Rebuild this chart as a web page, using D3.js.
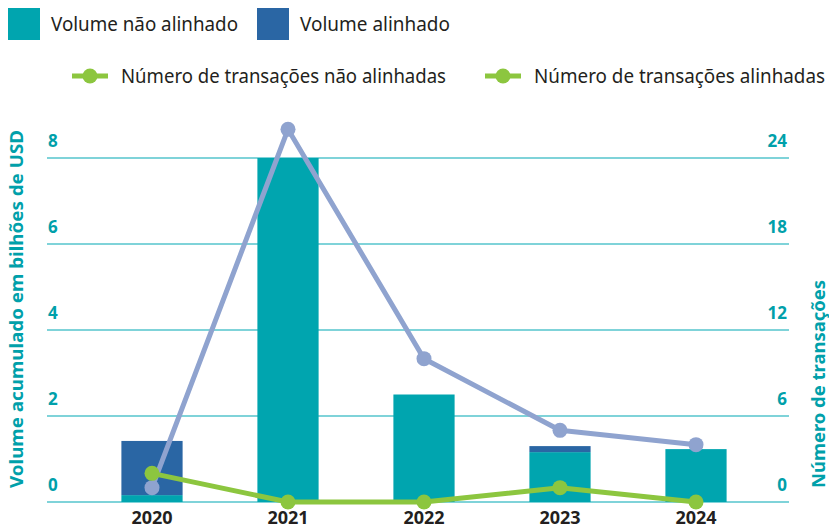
<!DOCTYPE html>
<html>
<head>
<meta charset="utf-8">
<script src="https://cdn.jsdelivr.net/npm/d3@7"></script>
<style>
  body { margin: 0; background: #fff; }
  svg { display: block; font-family: "Noto Sans", sans-serif; }
</style>
</head>
<body>
<svg id="chart"></svg>
<script>
// dados
const years = ["2020", "2021", "2022", "2023", "2024"];
const volNaoAlinhado = [0.16, 8.0, 2.5, 1.16, 1.23];
const volAlinhado = [1.26, 0, 0, 0.14, 0];
const txNaoAlinhadas = [1, 26, 10, 5, 4];
const txAlinhadas = [2, 0, 0, 1, 0];
const leftTicks = [0, 2, 4, 6, 8];
const rightTicks = [0, 6, 12, 18, 24];

const width = 829, height = 528;
const teal = "#00a5af", darkBlue = "#2a66a4", greyBlue = "#8fa3cf", green = "#8cc63f";
const gridColor = "#7fd3d9", axisText = "#00a0aa";

const svg = d3.select("#chart").attr("width", width).attr("height", height);

const x = d3.scaleBand().domain(years).range([84, 764]).paddingInner(0.55).paddingOuter(0.275);
const yL = d3.scaleLinear().domain([0, 8]).range([502, 158]);
const yR = d3.scaleLinear().domain([0, 24]).range([502, 158]);

// grade
svg.append("g").selectAll("line").data(leftTicks).enter().append("line")
    .attr("x1", 47).attr("x2", 789)
    .attr("y1", d => yL(d)).attr("y2", d => yL(d))
    .attr("stroke", gridColor).attr("stroke-width", 2);

// rótulos dos eixos
svg.append("g").selectAll("text").data(leftTicks).enter().append("text")
    .attr("x", 48).attr("y", d => yL(d) - 11)
    .attr("fill", axisText).attr("font-weight", 700).attr("font-size", 17)
    .text(d => d);
svg.append("g").selectAll("text").data(rightTicks).enter().append("text")
    .attr("x", 787).attr("y", d => yR(d) - 11).attr("text-anchor", "end")
    .attr("fill", axisText).attr("font-weight", 700).attr("font-size", 17)
    .text(d => d);

svg.append("text")
    .attr("transform", "translate(23,309) rotate(-90)")
    .attr("text-anchor", "middle").attr("fill", axisText)
    .attr("font-weight", 700).attr("font-size", 18)
    .attr("textLength", 358).attr("lengthAdjust", "spacingAndGlyphs")
    .text("Volume acumulado em bilhões de USD");
svg.append("text")
    .attr("transform", "translate(825,384) rotate(-90)")
    .attr("text-anchor", "middle").attr("fill", axisText)
    .attr("font-weight", 700).attr("font-size", 18)
    .attr("textLength", 208).attr("lengthAdjust", "spacingAndGlyphs")
    .text("Número de transações");

// barras empilhadas
const stackData = years.map((y, i) => ({ year: y, nao: volNaoAlinhado[i], ali: volAlinhado[i] }));
const series = d3.stack().keys(["nao", "ali"])(stackData);
const colors = { nao: teal, ali: darkBlue };
svg.append("g").selectAll("g").data(series).enter().append("g")
    .attr("fill", d => colors[d.key])
    .selectAll("rect").data(d => d).enter().append("rect")
    .attr("x", d => x(d.data.year))
    .attr("width", x.bandwidth())
    .attr("y", d => yL(d[1]))
    .attr("height", d => yL(d[0]) - yL(d[1]));

// anos
svg.append("g").selectAll("text").data(years).enter().append("text")
    .attr("x", d => x(d) + x.bandwidth() / 2).attr("y", 524)
    .attr("text-anchor", "middle").attr("fill", "#231f20")
    .attr("font-weight", 700).attr("font-size", 18)
    .text(d => d);

// linhas
function drawLine(values, color) {
    const line = d3.line()
        .x((d, i) => x(years[i]) + x.bandwidth() / 2)
        .y(d => yR(d));
    const g = svg.append("g");
    g.append("path").datum(values).attr("d", line)
        .attr("fill", "none").attr("stroke", color).attr("stroke-width", 5)
        .attr("stroke-linejoin", "round");
    g.selectAll("circle").data(values).enter().append("circle")
        .attr("cx", (d, i) => x(years[i]) + x.bandwidth() / 2)
        .attr("cy", d => yR(d)).attr("r", 7.5).attr("fill", color);
}
drawLine(txNaoAlinhadas, greyBlue);
drawLine(txAlinhadas, green);

// legenda
const leg1 = [
    { label: "Volume não alinhado", color: teal, x: 8, w: 187 },
    { label: "Volume alinhado", color: darkBlue, x: 257, w: 150 }
];
leg1.forEach(d => {
    svg.append("rect").attr("x", d.x).attr("y", 8).attr("width", 32).attr("height", 32).attr("fill", d.color);
    svg.append("text").attr("x", d.x + 43).attr("y", 31)
        .attr("font-size", 19).attr("fill", "#231f20")
        .attr("textLength", d.w).attr("lengthAdjust", "spacingAndGlyphs")
        .text(d.label);
});
const leg2 = [
    { label: "Número de transações não alinhadas", x: 72, w: 325 },
    { label: "Número de transações alinhadas", x: 485, w: 291 }
];
leg2.forEach(d => {
    svg.append("line").attr("x1", d.x).attr("x2", d.x + 36).attr("y1", 76).attr("y2", 76)
        .attr("stroke", green).attr("stroke-width", 5);
    svg.append("circle").attr("cx", d.x + 18).attr("cy", 76).attr("r", 7.5).attr("fill", green);
    svg.append("text").attr("x", d.x + 49).attr("y", 83)
        .attr("font-size", 19).attr("fill", "#231f20")
        .attr("textLength", d.w).attr("lengthAdjust", "spacingAndGlyphs")
        .text(d.label);
});
</script>
</body>
</html>
